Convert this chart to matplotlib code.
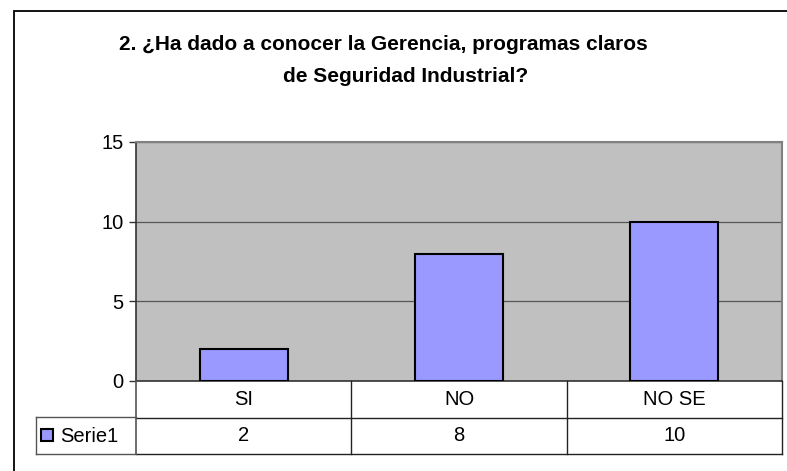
import matplotlib
matplotlib.use("Agg")
import matplotlib.pyplot as plt
from matplotlib.patches import Rectangle

categorias = ["SI", "NO", "NO SE"]
valores = [2, 8, 10]
serie = "Serie1"
titulo = ["2. ¿Ha dado a conocer la Gerencia, programas claros",
          "de Seguridad Industrial?"]
yticks = [0, 5, 10, 15]

W, H = 787, 471
plt.rcParams["font.family"] = ["Liberation Sans", "DejaVu Sans"]
fs = 14.5

fig = plt.figure(figsize=(W / 100, H / 100), dpi=100)
fig.patch.set_facecolor("white")


def fx(px):
    return px / W


def fy(py):
    return 1 - py / H


# marco exterior del gráfico (recortado por la imagen)
fig.add_artist(Rectangle((fx(14), fy(485)), fx(810) - fx(14), fy(11) - fy(485),
                         transform=fig.transFigure, fill=False,
                         edgecolor="black", linewidth=1.3))

fig.text(fx(383), fy(45), titulo[0], ha="center", va="center", fontsize=15,
         fontweight="bold")
fig.text(fx(406), fy(77), titulo[1], ha="center", va="center", fontsize=15,
         fontweight="bold")

left, right, top, bottom = 136, 782, 142, 381
ax = fig.add_axes([fx(left), fy(bottom), fx(right) - fx(left), fy(top) - fy(bottom)])
ax.set_facecolor("#C0C0C0")
x = range(len(categorias))
ax.bar(x, valores, width=0.41, color="#9999FF", edgecolor="black",
       linewidth=1.5, zorder=3)
ax.set_xlim(-0.5, len(categorias) - 0.5)
ax.set_ylim(0, 15)
ax.set_yticks(yticks)
ax.set_yticklabels([str(t) for t in yticks], fontsize=fs)
ax.yaxis.grid(True, color="#555555", linewidth=0.9, zorder=1)
ax.set_xticks([])
ax.tick_params(axis="y", direction="out", length=5, width=1, pad=4, color="#333333")
for s in ["top", "right"]:
    ax.spines[s].set_color("#808080")
    ax.spines[s].set_linewidth(1.5)
ax.spines["left"].set_color("#333333")
ax.spines["left"].set_linewidth(1.2)
ax.spines["bottom"].set_color("#333333")
ax.spines["bottom"].set_linewidth(1.2)

# tabla de datos debajo del eje
tbl_bottom = 454
tax = fig.add_axes([fx(left), fy(tbl_bottom), fx(right) - fx(left),
                    fy(bottom) - fy(tbl_bottom)])
tax.set_xlim(ax.get_xlim())
tax.set_ylim(0, 2)
tax.axis("off")
lc = "#222222"
n = len(categorias)
tax.plot([-0.5, n - 0.5], [1, 1], color=lc, lw=1, clip_on=False)
tax.plot([-0.5, n - 0.5], [0, 0], color=lc, lw=1, clip_on=False)
for i in range(n + 1):
    tax.plot([i - 0.5, i - 0.5], [0, 2], color="#555555" if i == 0 else lc,
             lw=1.2 if i == 0 else 1, clip_on=False)
for i, (c, v) in enumerate(zip(categorias, valores)):
    tax.text(i, 1.5, c, ha="center", va="center", fontsize=fs)
    tax.text(i, 0.5, str(v), ha="center", va="center", fontsize=fs)

# celda de leyenda
cell_left = 36
fig.add_artist(plt.Line2D([fx(cell_left), fx(left)], [fy(417), fy(417)],
                          transform=fig.transFigure, color="#555555", lw=1))
fig.add_artist(plt.Line2D([fx(cell_left), fx(left)], [fy(454), fy(454)],
                          transform=fig.transFigure, color="#555555", lw=1))
fig.add_artist(plt.Line2D([fx(cell_left), fx(cell_left)], [fy(417), fy(454)],
                          transform=fig.transFigure, color="#555555", lw=1))
fig.add_artist(Rectangle((fx(41), fy(441)), fx(12), fy(429) - fy(441),
                         transform=fig.transFigure, facecolor="#9999FF",
                         edgecolor="black", linewidth=1.5))
fig.text(fx(60), fy(436), serie, ha="left", va="center", fontsize=fs)

fig.savefig("out.png", dpi=100)
